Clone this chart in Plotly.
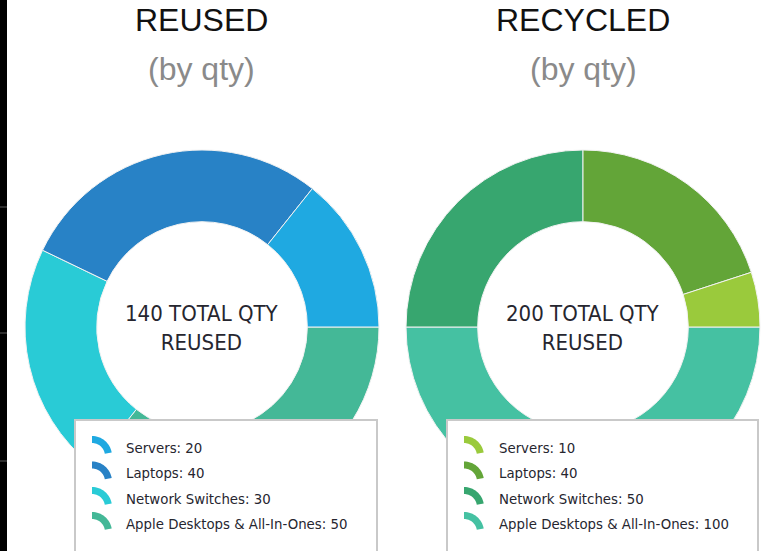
import math

import plotly.graph_objects as go

W, H = 769, 551

categories = ["Servers", "Laptops", "Network Switches", "Apple Desktops & All-In-Ones"]
reused_qty = [20, 40, 30, 50]
recycled_qty = [10, 40, 50, 100]
reused_colors = ["#1fa9e1", "#2882c6", "#29cbd6", "#44b897"]
recycled_colors = ["#9aca3c", "#63a538", "#37a66f", "#45c1a2"]

titles = ["REUSED", "RECYCLED"]
subtitle = "(by qty)"
center_label = "TOTAL QTY<br>REUSED"

LABEL_FONT = "DejaVu Sans Condensed, DejaVu Sans, sans-serif"
TITLE_FONT = "Liberation Sans, Arial, sans-serif"


def px_x(x):
    return x / W


def px_y(y):
    return 1 - y / H


def arc_icon_path(r_out=20, r_in=13, a0=0, a1=80, steps=16):
    # small donut wedge, pixel coords relative to the anchor (y up)
    pts = []
    for i in range(steps + 1):
        a = math.radians(a0 + (a1 - a0) * i / steps)
        pts.append((r_out * math.sin(a), r_out * math.cos(a)))
    for i in range(steps, -1, -1):
        a = math.radians(a0 + (a1 - a0) * i / steps)
        pts.append((r_in * math.sin(a), r_in * math.cos(a)))
    return "M " + " L ".join(f"{x:.2f},{y:.2f}" for x, y in pts) + " Z"


def text_note(x, y, text, font, xanchor="center"):
    return dict(x=x, y=y, xref="paper", yref="paper", text=text, showarrow=False,
                xanchor=xanchor, yanchor="middle", font=font)


fig = go.Figure()

# (left px, right px) of each donut
donut_x = [(25, 379), (406, 760)]
donut_y = (150, 504)
series = [(reused_qty, reused_colors), (recycled_qty, recycled_colors)]

for (x0, x1), (vals, cols) in zip(donut_x, series):
    fig.add_trace(go.Pie(
        labels=categories[::-1],
        values=vals[::-1],
        marker=dict(colors=cols[::-1], line=dict(color="#f2f2f2", width=1)),
        hole=0.595,
        sort=False,
        direction="clockwise",
        rotation=90,
        textinfo="none",
        showlegend=False,
        domain=dict(x=[px_x(x0), px_x(x1)], y=[px_y(donut_y[1]), px_y(donut_y[0])]),
    ))

annotations = []
shapes = [
    # dark strip on the left edge
    dict(type="rect", xref="paper", yref="paper", x0=0, x1=px_x(7), y0=0, y1=1,
         fillcolor="#000000", line=dict(width=0), layer="above"),
]
for gy in [207, 333, 461]:
    shapes.append(dict(type="line", xref="paper", yref="paper", x0=0, x1=px_x(7),
                       y0=px_y(gy), y1=px_y(gy), line=dict(color="#5a5a5a", width=1),
                       layer="above"))

legend_boxes = [(75, 377), (447, 758)]
icon_x = [92, 464]
text_x = [124, 497]
row_y = [447, 472.5, 498, 523]

for i, ((x0, x1), (vals, cols)) in enumerate(zip(donut_x, series)):
    cx = px_x((x0 + x1) / 2)
    annotations.append(text_note(cx, px_y(20), titles[i],
                                 dict(family=TITLE_FONT, size=32, color="#111111")))
    annotations.append(text_note(cx, px_y(69), subtitle,
                                 dict(family=TITLE_FONT, size=32, color="#8a8a8a")))
    annotations.append(text_note(cx, px_y(328), f"{sum(vals)} {center_label}",
                                 dict(family=LABEL_FONT, size=22, color="#26262f")))

    bx0, bx1 = legend_boxes[i]
    shapes.append(dict(type="rect", xref="paper", yref="paper", x0=px_x(bx0), x1=px_x(bx1),
                       y0=px_y(555), y1=px_y(420), fillcolor="#ffffff",
                       line=dict(color="#c9c9c9", width=2), layer="above"))
    for j, (cat, v, c) in enumerate(zip(categories, vals, cols)):
        shapes.append(dict(type="path", xref="paper", yref="paper",
                           xsizemode="pixel", ysizemode="pixel",
                           xanchor=px_x(icon_x[i]), yanchor=px_y(row_y[j] + 9),
                           path=arc_icon_path(), fillcolor=c, line=dict(width=0),
                           layer="above"))
        annotations.append(text_note(px_x(text_x[i]), px_y(row_y[j]), f"{cat}: {v}",
                                     dict(family=LABEL_FONT, size=14.8, color="#26262f"),
                                     xanchor="left"))

fig.update_layout(
    width=W,
    height=H,
    margin=dict(l=0, r=0, t=0, b=0),
    paper_bgcolor="#ffffff",
    plot_bgcolor="#ffffff",
    annotations=annotations,
    shapes=shapes,
)

# drop the browser's default body margin so the figure sits at the page corner
fig.write_html("out.html", config={"displayModeBar": False},
               post_script="document.body.style.margin = '0';")
